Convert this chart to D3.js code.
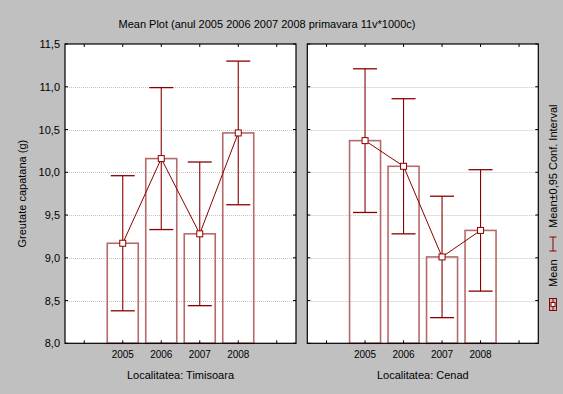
<!DOCTYPE html>
<html>
<head>
<meta charset="utf-8">
<script src="https://cdn.jsdelivr.net/npm/d3@7/dist/d3.min.js"></script>
<style>
  html, body { margin: 0; padding: 0; background: #c0c0c0; }
  svg { display: block; font-family: "Liberation Sans", Arial, sans-serif; }
</style>
</head>
<body>
<svg id="chart" width="563" height="394"></svg>
<script>
// Year slots along each panel's x axis (blank slots pad both ends)
const slots = ["s0", "2005", "2006", "2007", "2008", "s5"];
const years = ["2005", "2006", "2007", "2008"];
const yTicks = [8.0, 8.5, 9.0, 9.5, 10.0, 10.5, 11.0, 11.5];

// Mean head weight (g) and 95% confidence limits per locality
const timisoaraMean = [9.17, 10.16, 9.28, 10.46];
const timisoaraLow  = [8.38, 9.33, 8.44, 9.62];
const timisoaraHigh = [9.96, 10.99, 10.12, 11.30];

const cenadMean = [10.37, 10.07, 9.01, 9.32];
const cenadLow  = [9.53, 9.28, 8.30, 8.61];
const cenadHigh = [11.21, 10.86, 9.72, 10.03];

const panelNames = ["Localitatea: Timisoara", "Localitatea: Cenad"];

const panels = [
  { name: panelNames[0], mean: timisoaraMean, low: timisoaraLow, high: timisoaraHigh, x0: 65, x1: 296 },
  { name: panelNames[1], mean: cenadMean, low: cenadLow, high: cenadHigh, x0: 307.3, x1: 538.3 }
];

const plotTop = 44, plotBottom = 343.3;
const dark = "#8b0000";
const barStroke = "#b86a6a";

const svg = d3.select("#chart");

svg.append("text")
  .attr("x", 267).attr("y", 28)
  .attr("text-anchor", "middle")
  .attr("font-size", 11).attr("fill", "#000")
  .text("Mean Plot (anul 2005 2006 2007 2008 primavara 11v*1000c)");

const y = d3.scaleLinear().domain([8, 11.5]).range([plotBottom, plotTop]);

// Y axis labels on the left panel
const yAxis = d3.axisLeft(y).tickValues(yTicks).tickSize(0).tickPadding(5)
  .tickFormat(d => d3.format(".1f")(d).replace(".", ","));
svg.append("g").attr("transform", `translate(${panels[0].x0},0)`)
  .call(yAxis)
  .call(g => g.select(".domain").remove())
  .call(g => g.selectAll("text").attr("font-size", 11).attr("fill", "#000")
    .attr("font-family", "Liberation Sans, Arial, sans-serif"));

svg.append("text")
  .attr("transform", `translate(26,${(plotTop + plotBottom) / 2}) rotate(-90)`)
  .attr("text-anchor", "middle")
  .attr("font-size", 11).attr("fill", "#000")
  .text("Greutate capatana (g)");

panels.forEach(p => {
  const step = (p.x1 - p.x0) / slots.length;
  const xs = d3.scalePoint().domain(slots).range([p.x0 + step / 2, p.x1 - step / 2]);
  const g = svg.append("g");

  // plot area
  g.append("rect")
    .attr("x", p.x0).attr("y", plotTop)
    .attr("width", p.x1 - p.x0).attr("height", plotBottom - plotTop)
    .attr("fill", "#fff");

  // dotted grid
  g.selectAll(".grid").data(yTicks.slice(1, -1)).join("line")
    .attr("x1", p.x0).attr("x2", p.x1)
    .attr("y1", d => Math.round(y(d)) + 0.5).attr("y2", d => Math.round(y(d)) + 0.5)
    .attr("stroke", "#c4c4c4").attr("stroke-dasharray", "1,1");

  // bars
  const rows = years.map((yr, i) => ({ yr, mean: p.mean[i], low: p.low[i], high: p.high[i] }));
  const bw = 31;
  g.selectAll(".bar").data(rows).join("rect")
    .attr("x", d => xs(d.yr) - bw / 2)
    .attr("y", d => y(d.mean))
    .attr("width", bw)
    .attr("height", d => y(8) - y(d.mean))
    .attr("fill", "none")
    .attr("stroke", barStroke).attr("stroke-width", 1.6);

  // confidence interval whiskers
  const cap = 12;
  g.selectAll(".ci").data(rows).join("line")
    .attr("x1", d => xs(d.yr)).attr("x2", d => xs(d.yr))
    .attr("y1", d => y(d.low)).attr("y2", d => y(d.high))
    .attr("stroke", dark).attr("stroke-width", 1.1);
  ["low", "high"].forEach(k => {
    g.selectAll(".cap-" + k).data(rows).join("line")
      .attr("x1", d => xs(d.yr) - cap).attr("x2", d => xs(d.yr) + cap)
      .attr("y1", d => y(d[k])).attr("y2", d => y(d[k]))
      .attr("stroke", dark).attr("stroke-width", 1.3);
  });

  // mean line and markers
  g.append("path").datum(rows)
    .attr("d", d3.line().x(d => xs(d.yr)).y(d => y(d.mean)))
    .attr("fill", "none").attr("stroke", dark).attr("stroke-width", 1);
  g.selectAll(".mk").data(rows).join("rect")
    .attr("x", d => xs(d.yr) - 3).attr("y", d => y(d.mean) - 3)
    .attr("width", 6).attr("height", 6)
    .attr("fill", "#fff").attr("stroke", dark).attr("stroke-width", 1);

  // inward ticks on all sides
  const tl = 3;
  g.selectAll(".tt").data(slots).join("line")
    .attr("x1", d => xs(d)).attr("x2", d => xs(d))
    .attr("y1", plotTop).attr("y2", plotTop + tl).attr("stroke", "#000");
  g.selectAll(".tb").data(slots).join("line")
    .attr("x1", d => xs(d)).attr("x2", d => xs(d))
    .attr("y1", plotBottom).attr("y2", plotBottom - tl).attr("stroke", "#000");
  g.selectAll(".tl").data(yTicks).join("line")
    .attr("x1", p.x0).attr("x2", p.x0 + tl)
    .attr("y1", d => y(d)).attr("y2", d => y(d)).attr("stroke", "#000");
  g.selectAll(".tr").data(yTicks).join("line")
    .attr("x1", p.x1).attr("x2", p.x1 - tl)
    .attr("y1", d => y(d)).attr("y2", d => y(d)).attr("stroke", "#000");

  // frame
  g.append("rect")
    .attr("x", p.x0).attr("y", plotTop)
    .attr("width", p.x1 - p.x0).attr("height", plotBottom - plotTop)
    .attr("fill", "none").attr("stroke", "#000").attr("stroke-width", 1.2);

  // x tick labels
  g.selectAll(".xl").data(years).join("text")
    .attr("x", d => xs(d)).attr("y", 358)
    .attr("text-anchor", "middle").attr("font-size", 10).attr("fill", "#000")
    .text(d => d);

  g.append("text")
    .attr("x", (p.x0 + p.x1) / 2).attr("y", 379)
    .attr("text-anchor", "middle").attr("font-size", 11).attr("fill", "#000")
    .text(p.name);
});

// Legend, rotated along the right edge
const lg = svg.append("g");
lg.append("rect").attr("x", 549.5).attr("y", 298.5).attr("width", 7).attr("height", 12)
  .attr("fill", "none").attr("stroke", dark);
lg.append("line").attr("x1", 553).attr("x2", 553).attr("y1", 298.5).attr("y2", 310.5).attr("stroke", dark);
lg.append("rect").attr("x", 551).attr("y", 302.5).attr("width", 4).attr("height", 4)
  .attr("fill", "#fff").attr("stroke", dark);
lg.append("text")
  .attr("transform", "translate(557,287) rotate(-90)")
  .attr("font-size", 11).attr("fill", "#000").text("Mean");
lg.append("line").attr("x1", 549.5).attr("x2", 556.5).attr("y1", 237).attr("y2", 237).attr("stroke", dark);
lg.append("line").attr("x1", 549.5).attr("x2", 556.5).attr("y1", 251).attr("y2", 251).attr("stroke", dark);
lg.append("line").attr("x1", 553).attr("x2", 553).attr("y1", 237).attr("y2", 251).attr("stroke", dark);
lg.append("text")
  .attr("transform", "translate(557,228) rotate(-90)")
  .attr("font-size", 11).attr("fill", "#000").text("Mean±0,95 Conf. Interval");
</script>
</body>
</html>
